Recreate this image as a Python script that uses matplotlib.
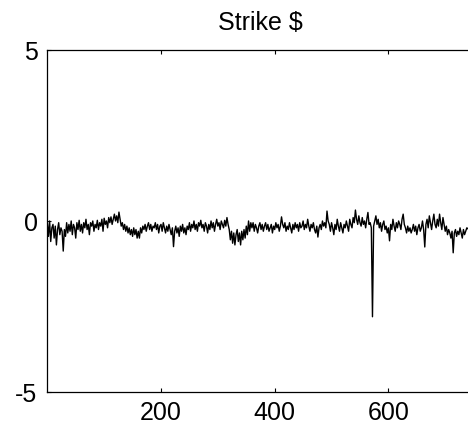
import numpy as np
import matplotlib
matplotlib.use("Agg")
import matplotlib.pyplot as plt

plt.rcParams["font.family"] = ["Liberation Sans", "DejaVu Sans"]
plt.rcParams["axes.unicode_minus"] = False

# sample index spacing for the strike series
step = 2
strike = [
    -0.05, -0.45, 0.0, -0.6, -0.2, -0.1, -0.5, -0.15, -0.7, -0.25, -0.05, -0.4, -0.2, -0.3, -0.88, -0.25, -0.45, -0.05, -0.35, -0.1,
    -0.3, 0.0, -0.4, -0.1, -0.2, -0.5, -0.05, -0.25, 0.02, -0.3, -0.1, -0.35, -0.05, -0.2, 0.05, -0.25, -0.1, -0.4, -0.05, -0.15,
    0.0, -0.3, -0.1, -0.2, 0.02, -0.25, -0.05, -0.15, 0.05, -0.3, 0.08, -0.1, 0.0, -0.2, 0.1, -0.05, 0.12, -0.1, 0.05, 0.2,
    0.0, 0.15, -0.05, 0.26, 0.05, -0.15, -0.05, -0.25, -0.1, -0.3, -0.15, -0.35, -0.2, -0.4, -0.25, -0.45, -0.2, -0.4, -0.25, -0.5,
    -0.3, -0.5, -0.2, -0.35, -0.15, -0.25, -0.1, -0.3, -0.15, -0.05, -0.25, -0.1, -0.3, -0.15, -0.2, -0.05, -0.25, -0.1, -0.35, -0.15,
    -0.1, -0.3, -0.05, -0.2, -0.35, -0.15, -0.3, -0.1, -0.25, -0.4, -0.2, -0.75, -0.3, -0.15, -0.35, -0.2, -0.45, -0.15, -0.3, -0.1,
    -0.35, -0.2, -0.4, -0.15, -0.25, -0.05, -0.3, -0.1, -0.2, 0.0, -0.25, -0.1, -0.3, -0.05, -0.15, 0.02, -0.2, -0.1, -0.3, -0.05,
    -0.15, -0.35, -0.1, -0.25, 0.0, -0.2, -0.05, -0.3, -0.1, 0.05, -0.15, -0.05, -0.25, 0.0, -0.1, -0.2, 0.02, -0.15, 0.1, -0.1,
    -0.25, -0.55, -0.3, -0.65, -0.35, -0.7, -0.4, -0.25, -0.6, -0.35, -0.7, -0.3, -0.55, -0.25, -0.5, -0.15, -0.4, 0.0, -0.3, -0.05,
    -0.2, -0.05, -0.3, -0.1, -0.2, -0.35, -0.15, -0.05, -0.25, -0.1, -0.3, -0.15, -0.05, -0.25, -0.1, -0.3, -0.2, -0.1, -0.35, -0.15,
    -0.25, -0.05, -0.2, -0.1, -0.3, -0.15, 0.12, -0.1, -0.2, -0.05, -0.3, -0.15, -0.25, -0.05, -0.2, -0.35, -0.1, -0.25, -0.05, -0.2,
    -0.1, -0.3, -0.05, -0.2, -0.15, 0.0, -0.25, -0.1, -0.2, 0.05, -0.15, -0.3, -0.1, -0.2, -0.05, -0.25, -0.35, -0.15, -0.47, -0.2,
    -0.1, -0.25, 0.0, -0.15, -0.05, -0.2, 0.29, 0.0, -0.1, -0.3, -0.05, -0.2, -0.4, -0.1, -0.25, 0.05, -0.15, -0.3, -0.05, -0.2,
    -0.35, -0.1, -0.2, 0.0, -0.15, -0.3, 0.05, -0.1, -0.2, 0.1, -0.05, 0.32, 0.05, -0.1, 0.15, -0.05, -0.15, 0.1, -0.1, 0.0,
    -0.2, 0.05, 0.25, -0.1, -0.05, -0.2, -2.8, -0.15, 0.0, 0.15, -0.1, 0.05, -0.2, -0.05, -0.3, -0.1, 0.0, -0.25, -0.15, -0.35,
    -0.2, -0.58, -0.1, -0.25, 0.05, -0.15, -0.3, -0.05, -0.2, 0.0, -0.1, -0.25, 0.05, 0.2, -0.1, -0.2, -0.35, -0.15, -0.3, -0.2,
    -0.35, -0.25, -0.1, -0.3, -0.15, -0.4, -0.2, -0.1, -0.3, -0.2, 0.0, -0.25, -0.76, -0.1, 0.05, -0.2, 0.15, -0.05, -0.25, 0.0,
    0.2, -0.1, -0.2, 0.05, -0.15, 0.2, -0.05, -0.25, 0.1, -0.1, -0.3, -0.15, -0.4, -0.25, -0.35, -0.5, -0.3, -0.93, -0.35, -0.25,
    -0.45, -0.3, -0.4, -0.2, -0.35, -0.5, -0.25, -0.4, -0.3, -0.2, -0.23,
]
x_ticks = [200, 400, 600]
y_ticks = [-5, 0, 5]
x_limits = (0, 750)
y_limits = (-5, 5)

x = np.arange(len(strike)) * step

fig = plt.figure(figsize=(4.68, 4.31), dpi=100)
ax = fig.add_axes([0.1011, 0.0882, 0.911, 0.7935])
ax.plot(x, strike, color="black", linewidth=1.0)

ax.set_xlim(*x_limits)
ax.set_ylim(*y_limits)
ax.set_xticks(x_ticks)
ax.set_yticks(y_ticks)
ax.tick_params(axis="both", direction="in", length=3, width=0.8,
               labelsize=18, top=True, right=True)
ax.tick_params(axis="x", pad=6)
ax.tick_params(axis="y", pad=7)
for s in ax.spines.values():
    s.set_linewidth(0.9)

ax.set_title("Strike \\$", fontsize=18, pad=15)

fig.savefig("out.png", dpi=100)
